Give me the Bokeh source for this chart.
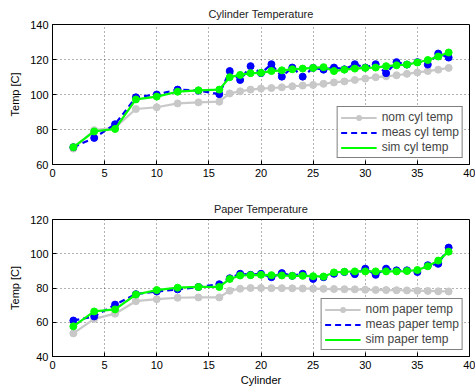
from bokeh.plotting import figure
from bokeh.layouts import column
from bokeh.models import Legend, LegendItem, FixedTicker, Range1d
from bokeh.embed import file_html
from bokeh.resources import INLINE

cyl = [2, 4, 6, 8, 10, 12, 14, 16] + list(range(17, 39))

nom_cyl = [69.1, 79.6, 81.0, 91.7, 92.7, 94.9, 95.5, 95.9, 100.6, 101.8, 102.8, 103.4,
           103.7, 104.1, 104.7, 105.1, 105.5, 106.1, 106.9, 107.5, 108.3, 109.1, 109.9,
           110.4, 111.0, 111.8, 112.6, 113.4, 114.2, 115.2]
meas_cyl = [69.9, 75.2, 83.0, 98.4, 100.0, 102.8, 102.2, 100.2, 113.4, 108.3, 116.2, 112.2,
            117.3, 110.2, 115.4, 110.2, 115.2, 114.2, 115.4, 114.4, 117.3, 115.4, 117.3,
            112.2, 118.5, 117.1, 118.5, 117.1, 123.4, 121.1]
sim_cyl = [69.9, 78.9, 80.3, 97.2, 98.8, 101.6, 102.4, 102.8, 109.9, 111.2, 112.2, 112.4,
           113.4, 113.8, 114.4, 114.8, 115.2, 115.6, 113.4, 114.2, 114.8, 115.2, 115.4,
           116.2, 116.7, 117.1, 118.3, 119.7, 121.7, 124.0]

nom_paper = [53.5, 62.0, 65.0, 72.3, 73.5, 74.3, 74.5, 74.5, 78.4, 79.6, 80.0, 80.0,
             79.9, 79.9, 79.8, 79.7, 79.6, 79.5, 79.4, 79.3, 79.2, 79.0, 78.9, 78.8,
             78.7, 78.6, 78.4, 78.3, 78.1, 78.0]
meas_paper = [61.0, 63.4, 70.3, 76.4, 78.0, 79.2, 80.6, 82.2, 85.7, 88.3, 87.7, 88.3,
              86.3, 88.7, 87.1, 88.3, 85.3, 86.3, 88.3, 89.3, 88.1, 91.3, 87.7, 91.3,
              90.3, 90.3, 89.3, 93.3, 94.1, 103.6]
sim_paper = [57.6, 66.3, 67.5, 76.2, 78.8, 80.2, 80.6, 80.6, 85.3, 87.3, 87.5, 87.7,
             87.5, 87.3, 87.1, 87.1, 86.9, 86.7, 89.1, 89.5, 89.7, 89.7, 89.7, 89.7,
             89.7, 89.9, 90.5, 92.7, 96.0, 101.2]

x_ticks = [0, 5, 10, 15, 20, 25, 30, 35, 40]
y_ticks_cyl = [60, 80, 100, 120, 140]
y_ticks_paper = [40, 60, 80, 100, 120]

FONT = "Liberation Sans"
GRAY = "#c8c8c8"
BLUE = "#0000ff"
GREEN = "#00ff00"


def make_plot(title, nom, meas, sim, yticks, labels, xlabel, height, top, bottom):
    p = figure(width=475, height=height, output_backend="svg", toolbar_location=None,
               x_range=Range1d(0, 40), y_range=Range1d(yticks[0], yticks[-1]),
               min_border_left=52, min_border_right=6, min_border_top=top,
               min_border_bottom=bottom)
    p.title.text = title
    p.title.align = "center"
    p.title.text_font = FONT
    p.title.text_font_size = "11px"
    p.title.text_font_style = "normal"
    p.title.text_color = "#222222"
    p.outline_line_color = "black"
    p.outline_line_width = 1
    p.outline_line_alpha = 1
    p.background_fill_color = "white"
    p.border_fill_color = "white"

    p.xaxis.ticker = FixedTicker(ticks=x_ticks)
    p.yaxis.ticker = FixedTicker(ticks=yticks)
    for ax in (p.xaxis[0], p.yaxis[0]):
        ax.major_tick_in = 4
        ax.major_tick_out = 0
        ax.minor_tick_line_color = None
        ax.axis_line_color = "black"
        ax.major_tick_line_color = "black"
        ax.major_label_text_font = FONT
        ax.major_label_text_font_size = "11px"
        ax.major_label_text_color = "black"
        ax.axis_label_text_font = FONT
        ax.axis_label_text_font_size = "11px"
        ax.axis_label_text_font_style = "normal"
        ax.axis_label_text_color = "black"
        ax.major_label_standoff = 4
    p.yaxis.axis_label = "Temp [C]"
    p.yaxis.axis_label_standoff = 6
    if xlabel:
        p.xaxis.axis_label = xlabel
        p.xaxis.axis_label_standoff = 2

    p.grid.grid_line_color = "black"
    p.grid.grid_line_dash = "1 3"
    p.grid.grid_line_alpha = 0.6
    p.grid.grid_line_width = 1

    g_line = p.line(cyl, nom, color=GRAY, line_width=2.2)
    g_circ = p.scatter(cyl, nom, size=7, color=GRAY)
    b_circ = p.scatter(cyl, meas, size=7, color=BLUE)
    b_line = p.line(cyl, meas, color=BLUE, line_width=2.2, line_dash="6 4")
    s_line = p.line(cyl, sim, color=GREEN, line_width=2.2)
    s_circ = p.scatter(cyl, sim, size=7, color=GREEN)

    legend = Legend(items=[
        LegendItem(label=labels[0], renderers=[g_line, g_circ]),
        LegendItem(label=labels[1], renderers=[b_line]),
        LegendItem(label=labels[2], renderers=[s_line]),
    ], location="bottom_right")
    legend.border_line_color = "black"
    legend.border_line_width = 1
    legend.background_fill_alpha = 1
    legend.label_text_font = FONT
    legend.label_text_font_size = "12px"
    legend.label_height = 13
    legend.glyph_height = 13
    legend.glyph_width = 36
    legend.spacing = 1
    legend.padding = 3
    legend.margin = 6
    legend.label_standoff = 5
    p.add_layout(legend, "center")
    return p


p1 = make_plot("Cylinder Temperature", nom_cyl, meas_cyl, sim_cyl, y_ticks_cyl,
               ["nom cyl temp", "meas cyl temp", "sim cyl temp"], None, 195, 12, 31)
p2 = make_plot("Paper Temperature", nom_paper, meas_paper, sim_paper, y_ticks_paper,
               ["nom paper temp", "meas paper temp", "sim paper temp"], "Cylinder", 195, 10, 34)

layout = column(p1, p2, spacing=0)
open("out.html", "w").write(file_html(layout, INLINE))
